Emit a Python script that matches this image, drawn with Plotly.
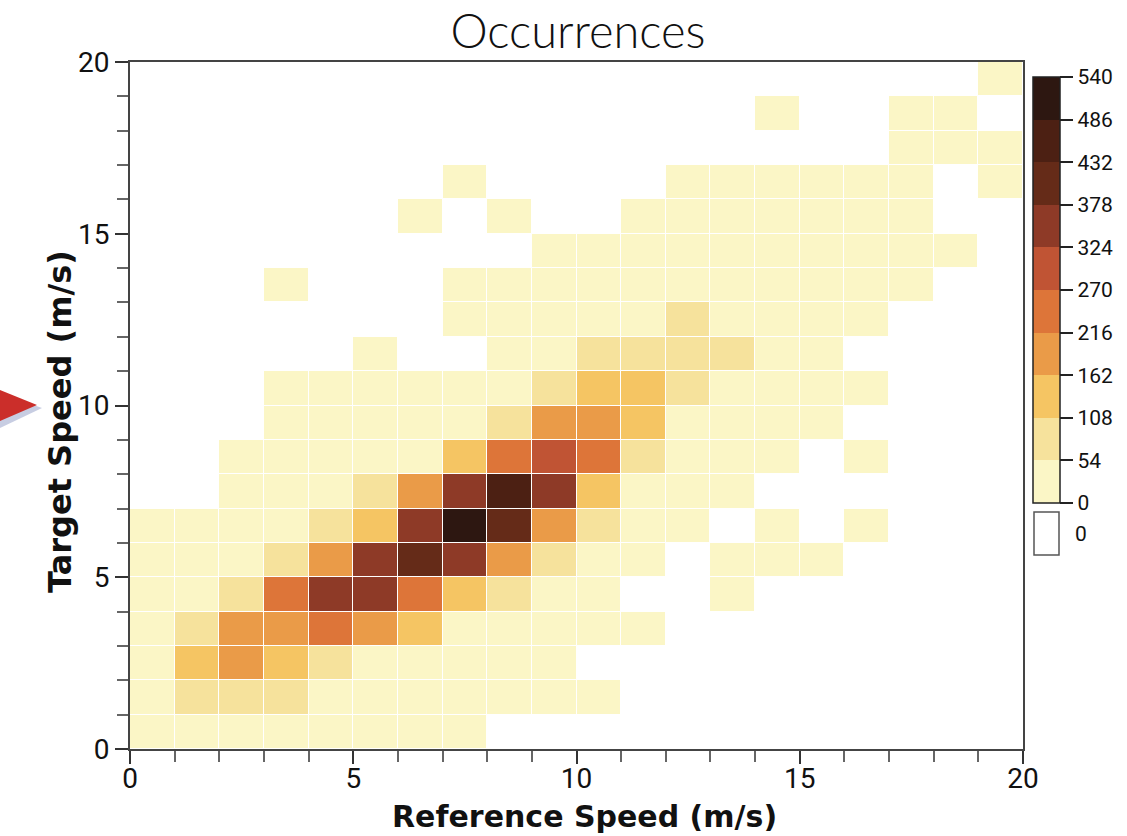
import plotly.graph_objects as go

# ---------------- data ----------------
speed_edges = [0, 1, 2, 3, 4, 5, 6, 7, 8, 9, 10, 11, 12, 13, 14, 15, 16, 17, 18, 19, 20]

# occurrences[row = target speed bin][col = reference speed bin]
occurrences = [
    [30, 28, 22, 18, 14, 10, 6, 3, 0, 0, 0, 0, 0, 0, 0, 0, 0, 0, 0, 0],
    [40, 75, 70, 62, 45, 38, 30, 22, 14, 8, 3, 0, 0, 0, 0, 0, 0, 0, 0, 0],
    [35, 125, 170, 120, 70, 48, 40, 30, 18, 6, 0, 0, 0, 0, 0, 0, 0, 0, 0, 0],
    [25, 80, 195, 185, 235, 200, 140, 50, 42, 30, 18, 4, 0, 0, 0, 0, 0, 0, 0, 0],
    [20, 35, 90, 250, 345, 355, 240, 130, 85, 45, 20, 0, 0, 2, 0, 0, 0, 0, 0, 0],
    [12, 25, 40, 95, 205, 365, 415, 360, 180, 80, 35, 15, 0, 3, 2, 1, 0, 0, 0, 0],
    [8, 15, 28, 45, 88, 150, 370, 530, 425, 195, 70, 30, 12, 0, 2, 0, 1, 0, 0, 0],
    [0, 0, 10, 22, 40, 100, 210, 375, 470, 340, 155, 40, 18, 6, 0, 0, 0, 0, 0, 0],
    [0, 0, 5, 12, 20, 30, 48, 145, 255, 300, 260, 95, 35, 15, 5, 0, 1, 0, 0, 0],
    [0, 0, 0, 4, 8, 15, 25, 40, 90, 200, 190, 125, 45, 20, 8, 3, 0, 0, 0, 0],
    [0, 0, 0, 2, 4, 6, 10, 18, 35, 65, 115, 130, 60, 35, 18, 7, 2, 0, 0, 0],
    [0, 0, 0, 0, 0, 1, 0, 0, 6, 25, 58, 72, 80, 56, 28, 10, 0, 0, 0, 0],
    [0, 0, 0, 0, 0, 0, 0, 3, 8, 20, 38, 50, 62, 40, 22, 10, 3, 0, 0, 0],
    [0, 0, 0, 1, 0, 0, 0, 2, 5, 12, 20, 30, 35, 30, 22, 15, 8, 3, 0, 0],
    [0, 0, 0, 0, 0, 0, 0, 0, 0, 4, 8, 15, 20, 22, 18, 12, 8, 5, 2, 0],
    [0, 0, 0, 0, 0, 0, 1, 0, 1, 0, 0, 6, 9, 12, 12, 10, 7, 4, 0, 0],
    [0, 0, 0, 0, 0, 0, 0, 1, 0, 0, 0, 0, 3, 5, 6, 6, 5, 3, 0, 1],
    [0, 0, 0, 0, 0, 0, 0, 0, 0, 0, 0, 0, 0, 0, 0, 0, 0, 2, 2, 1],
    [0, 0, 0, 0, 0, 0, 0, 0, 0, 0, 0, 0, 0, 0, 1, 0, 0, 2, 1, 0],
    [0, 0, 0, 0, 0, 0, 0, 0, 0, 0, 0, 0, 0, 0, 0, 0, 0, 0, 0, 1],
]

color_levels = [0, 54, 108, 162, 216, 270, 324, 378, 432, 486, 540]
level_colors = ["#FBF6C6", "#F6E29C", "#F5C563", "#EA9B48", "#DD7539",
                "#C05434", "#8E3A27", "#652B18", "#4C2013", "#2D1711"]
axis_ticks = [0, 5, 10, 15, 20]

# ---------------- styling ----------------
W, H = 1127, 836
L, R, T, B = 130, 1023, 62, 749
TICKF = "Roboto, Liberation Sans Narrow, sans-serif"
GEO = "Lato, Open Sans, sans-serif"
BOLDF = "DejaVu Sans, sans-serif"


def px_x(p):
    return (p - L) / (R - L)


def px_y(p):
    return (B - p) / (B - T)


zmax = color_levels[-1]
colorscale = []
for i, c in enumerate(level_colors):
    colorscale.append([color_levels[i] / zmax, c])
    colorscale.append([color_levels[i + 1] / zmax, c])

z = [[v if v > 0 else None for v in row] for row in occurrences]

cb_top, cb_bot = 77, 503
fig = go.Figure(go.Heatmap(
    x=speed_edges, y=speed_edges, z=z,
    zmin=0, zmax=zmax, colorscale=colorscale,
    xgap=1, ygap=1, hoverongaps=False,
    colorbar=dict(
        x=px_x(1033), xanchor="left", xpad=0,
        y=px_y((cb_top + cb_bot) / 2), yanchor="middle", ypad=0,
        len=cb_bot - cb_top, lenmode="pixels",
        thickness=27, thicknessmode="pixels",
        outlinecolor="#222", outlinewidth=1.5,
        tickvals=color_levels, ticktext=[str(v) for v in color_levels],
        ticks="outside", ticklen=13, tickwidth=1.5, tickcolor="#222",
        tickfont=dict(family=TICKF, size=21, color="#111"),
    ),
))

shapes = []
# divider lines inside the colour bar
for lv in color_levels[1:-1]:
    yy = cb_bot - (cb_bot - cb_top) * lv / zmax
    shapes.append(dict(type="line", xref="paper", yref="paper",
                       x0=px_x(1033), x1=px_x(1060), y0=px_y(yy), y1=px_y(yy),
                       line=dict(color="#3a2a20", width=1.5)))
# white "0" legend box
shapes.append(dict(type="rect", xref="paper", yref="paper",
                   x0=px_x(1034), x1=px_x(1059), y0=px_y(555), y1=px_y(512),
                   line=dict(color="#555", width=1.5), fillcolor="white"))
# red arrow pointer at left (with bluish shadow)
shadow_path = "M {} {} L {} {} L {} {} Z".format(
    px_x(0), px_y(393), px_x(42), px_y(408), px_x(0), px_y(428))
arrow_path = "M {} {} L {} {} L {} {} Z".format(
    px_x(0), px_y(390), px_x(37), px_y(405), px_x(0), px_y(421))
shapes.append(dict(type="path", xref="paper", yref="paper", path=shadow_path,
                   fillcolor="rgba(70,90,160,0.30)", line=dict(width=0)))
shapes.append(dict(type="path", xref="paper", yref="paper", path=arrow_path,
                   fillcolor="#CB2E2A", line=dict(width=0)))

annotations = [
    dict(xref="paper", yref="paper", x=px_x(1073), y=px_y(534),
         text="0", showarrow=False, xanchor="left", yanchor="middle",
         font=dict(family=TICKF, size=21, color="#111")),
    dict(xref="paper", yref="paper", x=px_x(584), y=px_y(816),
         text="Reference Speed (m/s)", showarrow=False,
         xanchor="center", yanchor="middle",
         font=dict(family=BOLDF, size=30, color="#111", weight="bold")),
    dict(xref="paper", yref="paper", x=px_x(60), y=px_y(422),
         text="Target Speed (m/s)", showarrow=False, textangle=-90,
         xanchor="center", yanchor="middle",
         font=dict(family=BOLDF, size=32, color="#111", weight="bold")),
]

axis_common = dict(
    range=[0, 20], tickvals=axis_ticks, ticktext=[str(v) for v in axis_ticks],
    ticks="outside", ticklen=13, tickwidth=2, tickcolor="#333",
    minor=dict(dtick=1, ticks="outside", ticklen=11, tickwidth=1.5, tickcolor="#666"),
    showline=True, linecolor="#444", linewidth=2, mirror=True,
    showgrid=False, zeroline=False, automargin=False,
    tickfont=dict(family=TICKF, size=28, color="#111"),
)

fig.update_layout(
    width=W, height=H,
    margin=dict(l=L, r=W - R, t=T, b=H - B, pad=0, autoexpand=False),
    paper_bgcolor="white", plot_bgcolor="white",
    title=dict(text="Occurrences", x=px_x(578), xref="paper", xanchor="center",
               y=1 - 32 / H, yref="container", yanchor="middle",
               font=dict(family=GEO, size=47, color="#111", weight=300)),
    xaxis=dict(**axis_common, ticklabelstandoff=-10),
    yaxis=dict(**axis_common),
    shapes=shapes,
    annotations=annotations,
)

fig.write_html("out.html")
